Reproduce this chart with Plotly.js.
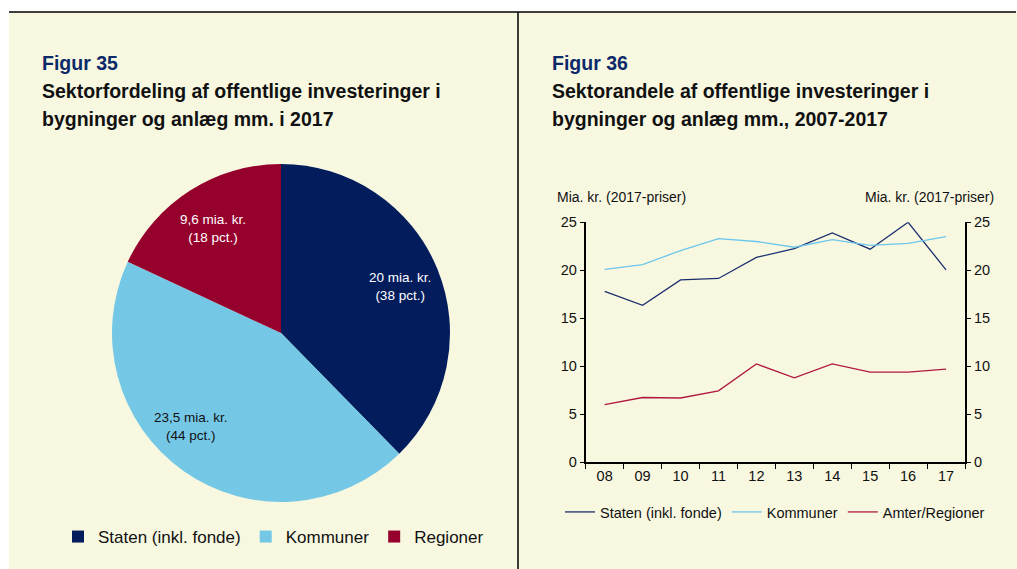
<!DOCTYPE html>
<html>
<head>
<meta charset="utf-8">
<script src="https://cdn.plot.ly/plotly-3.0.1.min.js"></script>
<style>html,body{margin:0;padding:0;background:#fff;}#chart{width:1017px;height:569px;}</style>
</head>
<body>
<div id="chart"></div>
<script>
// ---- Data ----
var pieLabels = ["Staten (inkl. fonde)", "Kommuner", "Regioner"];
var pieValues = [20, 23.5, 9.6];

var years = ["08", "09", "10", "11", "12", "13", "14", "15", "16", "17"];
var staten = [17.8, 16.35, 19.0, 19.15, 21.35, 22.25, 23.9, 22.2, 25.0, 20.05];
var kommuner = [20.1, 20.6, 22.05, 23.3, 23.0, 22.4, 23.2, 22.6, 22.8, 23.5];
var regioner = [6.0, 6.75, 6.7, 7.45, 10.25, 8.8, 10.25, 9.4, 9.4, 9.7];
var lineNames = ["Staten (inkl. fonde)", "Kommuner", "Amter/Regioner"];

// ---- Helpers ----
var W = 1017, H = 569;
function px(x){ return x / W; }
function py(y){ return 1 - y / H; }
var total = pieValues.reduce(function(a,b){return a+b;}, 0);
var pieText = pieValues.map(function(v){
  var s = String(v).replace('.', ',');
  return s + ' mia. kr.<br>(' + Math.round(v / total * 100) + ' pct.)';
});

var font = "Liberation Sans, Arial, sans-serif";
var navy = "#021c5c", light = "#74c8e6", red = "#96002c";
var labelColors = ["#ffffff", "#111111", "#ffffff"];

// pie geometry (style)
var pieCx = 281, pieCy = 333, pieR = 169;
var labelRadius = [0.76, 0.76, 0.75];
var labelAngleShift = [0, 9, 0];

var traces = [
  {
    type: "pie", labels: pieLabels, values: pieValues,
    textinfo: "none",
    sort: false, direction: "clockwise", rotation: 0,
    marker: {colors: [navy, light, red], line: {width: 0}},
    hoverinfo: "none",
    domain: {x: [px(pieCx - pieR), px(pieCx + pieR)], y: [py(pieCy + pieR), py(pieCy - pieR)]},
    legend: "legend"
  },
  {type: "scatter", mode: "lines", x: years, y: staten, name: lineNames[0],
   line: {color: "#1b2f6e", width: 1.3}, xaxis: "x", yaxis: "y", legend: "legend2"},
  {type: "scatter", mode: "lines", x: years, y: kommuner, name: lineNames[1],
   line: {color: "#6cc6ec", width: 1.3}, xaxis: "x", yaxis: "y", legend: "legend2"},
  {type: "scatter", mode: "lines", x: years, y: regioner, name: lineNames[2],
   line: {color: "#b01840", width: 1.3}, xaxis: "x", yaxis: "y", legend: "legend2"},
  {type: "scatter", mode: "lines", x: years, y: regioner, showlegend: false,
   line: {width: 0}, opacity: 0, xaxis: "x", yaxis: "y2", hoverinfo: "skip"}
];

// pie labels at the middle angle of each slice
var pieAnnotations = [];
var cum = 0;
pieValues.forEach(function(v, i){
  var mid = (cum + v / 2) / total * 360 + labelAngleShift[i];
  cum += v;
  var a = mid * Math.PI / 180;
  var r = pieR * labelRadius[i];
  pieAnnotations.push({
    text: pieText[i], x: px(pieCx + r * Math.sin(a)), y: py(pieCy - r * Math.cos(a) + 2),
    xref: "paper", yref: "paper", xanchor: "center", yanchor: "middle", showarrow: false,
    align: "center", font: {size: 13.5, color: labelColors[i]}
  });
});

var tickFont = {size: 14.5, color: "#111"};
var bg = "#f8f8e1";
var titleSize = 19.5;
var layout = {
  width: W, height: H,
  margin: {l: 0, r: 0, t: 0, b: 0},
  paper_bgcolor: "#ffffff", plot_bgcolor: "rgba(0,0,0,0)",
  font: {family: font, color: "#111111"},
  showlegend: true,
  xaxis: {
    domain: [px(585.7), px(965)], type: "category", range: [-0.5, 9.5],
    showline: true, linecolor: "#000", linewidth: 1.5,
    ticks: "outside", tickson: "boundaries", ticklen: 5, tickcolor: "#000", tickwidth: 1,
    showgrid: false, zeroline: false, tickfont: tickFont,
    anchor: "y", fixedrange: true
  },
  yaxis: {
    domain: [py(462.3), py(222.3)], range: [0, 25], dtick: 5,
    showline: true, linecolor: "#000", linewidth: 2,
    ticks: "outside", ticklen: 4, tickcolor: "#000", tickwidth: 1,
    showgrid: false, zeroline: false, tickfont: tickFont,
    anchor: "x", fixedrange: true
  },
  yaxis2: {
    domain: [py(462.3), py(222.3)], range: [0, 25], dtick: 5, overlaying: "y", side: "right",
    showline: true, linecolor: "#000", linewidth: 2,
    ticks: "outside", ticklen: 4, tickcolor: "#000", tickwidth: 1,
    showgrid: false, zeroline: false, tickfont: tickFont,
    anchor: "x", fixedrange: true
  },
  legend: {
    orientation: "h", x: px(58), y: py(537), xanchor: "left", yanchor: "middle",
    bgcolor: "rgba(0,0,0,0)", font: {size: 17, color: "#111"}, itemclick: false, itemdoubleclick: false
  },
  legend2: {
    orientation: "h", x: px(560), y: py(512), xanchor: "left", yanchor: "middle",
    bgcolor: "rgba(0,0,0,0)", font: {size: 14.5, color: "#111"}, itemwidth: 30,
    itemclick: false, itemdoubleclick: false
  },
  shapes: [
    {type: "rect", xref: "paper", yref: "paper", x0: px(9), x1: 1, y0: 0, y1: py(12),
     fillcolor: bg, line: {width: 0}, layer: "below"},
    {type: "line", xref: "paper", yref: "paper", x0: px(9), x1: px(1016), y0: py(12), y1: py(12),
     line: {color: "#000", width: 1.5}},
    {type: "line", xref: "paper", yref: "paper", x0: px(518), x1: px(518), y0: 0, y1: py(12),
     line: {color: "#000", width: 1.5}}
  ],
  annotations: [
    {text: "<b>Figur 35</b>", x: px(40), y: py(63), xref: "paper", yref: "paper", xanchor: "left", yanchor: "middle",
     showarrow: false, font: {size: titleSize, color: "#0c2a6a"}},
    {text: "<b>Sektorfordeling af offentlige investeringer i</b>", x: px(40), y: py(91), xref: "paper", yref: "paper", xanchor: "left", yanchor: "middle",
     showarrow: false, font: {size: titleSize, color: "#111"}},
    {text: "<b>bygninger og anlæg mm. i 2017</b>", x: px(40), y: py(119), xref: "paper", yref: "paper", xanchor: "left", yanchor: "middle",
     showarrow: false, font: {size: titleSize, color: "#111"}},
    {text: "<b>Figur 36</b>", x: px(550), y: py(63), xref: "paper", yref: "paper", xanchor: "left", yanchor: "middle",
     showarrow: false, font: {size: titleSize, color: "#0c2a6a"}},
    {text: "<b>Sektorandele af offentlige investeringer i</b>", x: px(550), y: py(91), xref: "paper", yref: "paper", xanchor: "left", yanchor: "middle",
     showarrow: false, font: {size: titleSize, color: "#111"}},
    {text: "<b>bygninger og anlæg mm., 2007-2017</b>", x: px(550), y: py(119), xref: "paper", yref: "paper", xanchor: "left", yanchor: "middle",
     showarrow: false, font: {size: titleSize, color: "#111"}},
    {text: "Mia. kr. (2017-priser)", x: px(555), y: py(197), xref: "paper", yref: "paper", xanchor: "left", yanchor: "middle",
     showarrow: false, font: {size: 14, color: "#111"}},
    {text: "Mia. kr. (2017-priser)", x: px(996), y: py(197), xref: "paper", yref: "paper", xanchor: "right", yanchor: "middle",
     showarrow: false, font: {size: 14, color: "#111"}}
  ].concat(pieAnnotations)
};

Plotly.newPlot("chart", traces, layout, {staticPlot: true, displayModeBar: false});
</script>
</body>
</html>
